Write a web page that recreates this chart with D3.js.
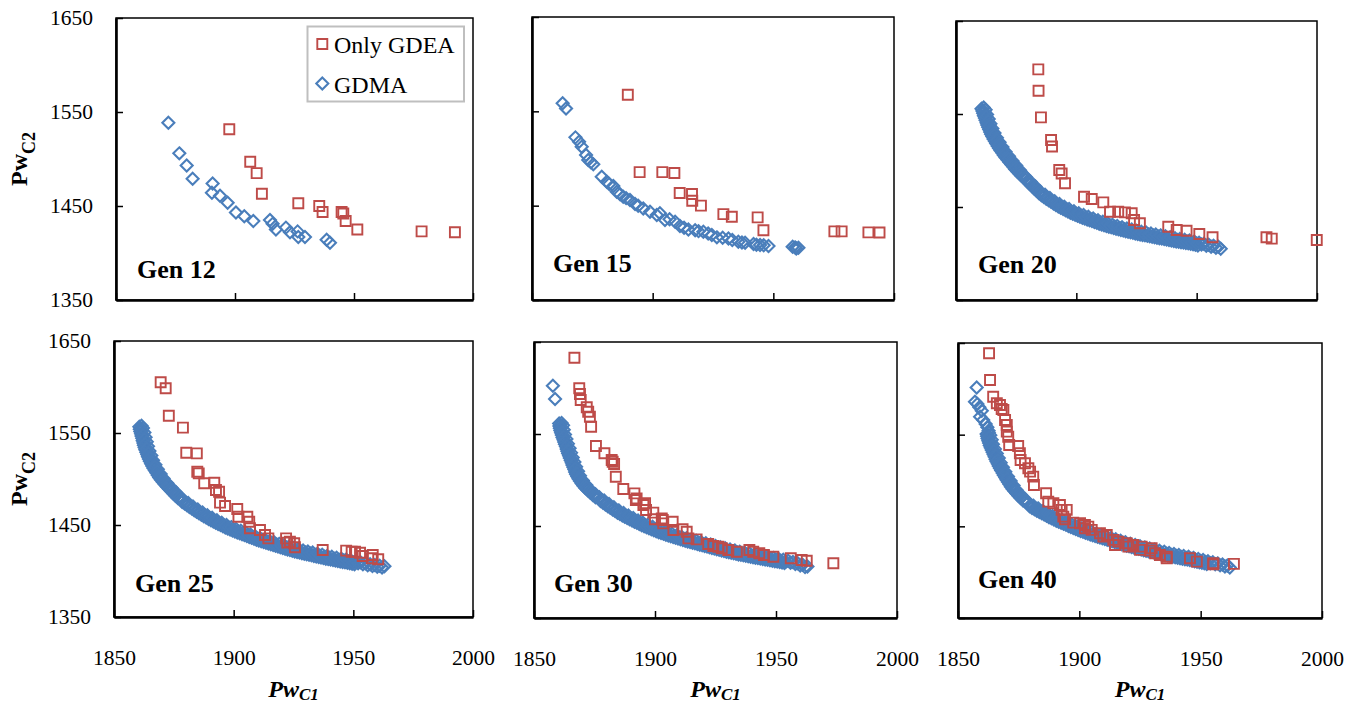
<!DOCTYPE html>
<html>
<head>
<meta charset="utf-8">
<script src="https://cdnjs.cloudflare.com/ajax/libs/d3/7.8.5/d3.min.js"></script>
<style>
  html, body { margin: 0; padding: 0; background: #ffffff; }
  svg { display: block; font-family: "Liberation Serif", "Times New Roman", serif; }
</style>
</head>
<body>
<svg id="chart" width="1357" height="704"></svg>
<script>
// ---- axis ticks and labels ----
const xTicks = [1850, 1900, 1950, 2000];
const yTicks = [1350, 1450, 1550, 1650];
const genLabels = ["Gen 12", "Gen 15", "Gen 20", "Gen 25", "Gen 30", "Gen 40"];
const seriesNames = ["Only GDEA", "GDMA"];

// ---- Gen 12 ----
const gen12Gdea = [[1897.6,1531.6],[1906.4,1497],[1909.1,1485],[1911.3,1463],[1926.6,1453],[1935.4,1450],[1936.8,1443.6],[1944.8,1443.6],[1945.5,1442],[1946.5,1434],[1951.4,1425],[1978.4,1423],[1992.4,1422]];
const gen12Gdma = [[1872,1538.6],[1876.6,1506],[1879.7,1493],[1882.2,1479],[1890.6,1474],[1890.3,1464],[1893.7,1461],[1896.9,1453.5],[1900.4,1443],[1903.9,1439],[1907.7,1434],[1914.7,1435],[1915.8,1431],[1917.2,1425],[1921.4,1427],[1923.1,1422],[1926.3,1423],[1926.6,1417],[1929.4,1417],[1938.5,1414],[1939.9,1411]];

// ---- Gen 15 ----
const gen15Gdea = [[1889.7,1567.6],[1894.6,1485.6],[1904,1485.6],[1909,1484.6],[1911.2,1463.4],[1916.3,1462.3],[1916.4,1455.2],[1920,1450],[1929.3,1441],[1932.8,1438.3],[1943.5,1437.6],[1945.9,1424],[1975.3,1422.7],[1978.3,1422.7],[1989.4,1421.7],[1994,1421.5]];
const gen15Gdma = [[1862.7,1558.5],[1864.1,1553],[1868,1522.4],[1869.5,1517.8],[1870.6,1512.5],[1872.4,1503.7],[1873.3,1498.4],[1874.4,1496],[1875.4,1493.8],[1878.9,1480.7],[1881,1475.4],[1882,1473],[1883.7,1470.8],[1885.1,1464.8],[1886.5,1462],[1887.8,1459.5],[1889,1458],[1890.6,1456],[1892.7,1451.7],[1894,1450],[1896.1,1447],[1898.9,1443.6],[1901.7,1440],[1903,1442],[1905.1,1434.7],[1907,1435.5],[1909.3,1433],[1911.3,1428.4],[1913,1426.5],[1914.8,1424.8],[1917.6,1424],[1919,1423],[1921,1422.3],[1923,1420.5],[1924.5,1418.8],[1926.6,1416.4],[1929,1416],[1931.4,1415.3],[1933,1413.5],[1935.5,1411.7],[1937,1411],[1938.3,1410.7],[1941.8,1409.3],[1943,1408.5],[1944.5,1408.3],[1946,1408],[1948,1407.2],[1958,1406.5],[1959,1405.8],[1959.5,1404.5],[1960.4,1405.5]];

// ---- Gen 20 ----
const gen20Gdea = [[1884.2,1598],[1884.3,1575],[1885.3,1546.4],[1889.5,1522],[1889.9,1515],[1892.9,1489.8],[1893.9,1486],[1895.3,1475.5],[1903.2,1461],[1906.4,1458.6],[1911.2,1455],[1914,1444.9],[1917.4,1444.9],[1920.2,1444.2],[1923,1443.2],[1924,1436],[1926.4,1432.5],[1938.2,1428.8],[1941.7,1425.3],[1945.8,1424.5],[1951.1,1421],[1956.6,1417.4],[1979,1417.4],[1981.2,1416],[1999.9,1414.5]];
const gen20Gdma = [
  [1861.5,1557],[1862.3,1554.5],[1861.9,1552],[1862.9,1549.5],[1862.6,1547],[1863.6,1544.5],[1863.3,1542],[1864.3,1539.5],[1864.0,1537],[1865.1,1534.5],[1864.9,1532],[1866.0,1529.5],[1865.8,1527],[1867.0,1524.5],[1866.9,1522],[1868.1,1519.5],[1868.0,1517],[1869.3,1514.5],[1869.2,1512],[1870.6,1509.5],[1870.5,1507],[1872.0,1504.5],[1871.9,1502],[1873.5,1499.5],[1873.4,1497],[1875.0,1494.5],[1874.9,1492],[1876.6,1489.5],[1876.5,1487],[1878.2,1484.5],
  [1879,1482.2],[1880,1478.1],[1881,1477.1],[1882,1473.0],[1883,1472.0],[1884,1467.8],[1885,1466.8],[1886,1463.3],[1887,1463.1],[1888,1459.7],[1889,1459.6],[1890,1456.3],[1891,1456.2],[1892,1453.0],[1893,1453.2],[1894,1450.2],[1895,1450.4],[1896,1447.5],[1897,1447.8],[1898,1445.0],[1899,1445.5],[1900,1442.8],[1901,1443.3],[1902,1440.7],[1903,1441.3],[1904,1438.7],[1905,1439.4],[1906,1436.9],[1907,1437.6],[1908,1435.1],[1909,1435.8],[1910,1433.3],[1911,1434.1],[1912,1431.7],[1913,1432.5],[1914,1430.1],[1915,1431.0],[1916,1428.7],[1917,1429.6],[1918,1427.3],[1919,1428.2],[1920,1426.0],[1921,1427.0],[1922,1424.8],[1923,1425.8],[1924,1423.6],[1925,1424.6],[1926,1422.4],[1927,1423.5],[1928,1421.4],[1929,1422.5],[1930,1420.4],[1931,1421.5],[1932,1419.4],[1933,1420.5],[1934,1418.4],[1935,1419.5],[1936,1417.4],[1937,1418.5],[1938,1416.4],[1939,1417.5],[1940,1415.4],[1941,1416.5],[1942,1414.4],[1943,1415.6],[1944,1413.6],[1945,1414.8],[1946,1412.8],[1947,1413.9],[1948,1411.8],[1949,1412.8],[1950,1410.7],[1951,1411.7],[1952,1409.6],[1953,1410.6],[1954,1408.4],[1955,1409.5],[1956,1407.3],[1957,1408.4],[1958,1406.2],[1959,1407.3],[1960,1405.2]
];
const gen20GdmaInner = [
  [1860.6,1555.7],[1861.0,1553.2],[1861.3,1550.7],[1861.6,1548.2],[1862.0,1545.7],[1862.3,1543.2],[1862.7,1540.7],[1863.0,1538.2],[1863.4,1535.7],[1863.8,1533.2],[1864.2,1530.7],[1864.6,1528.2],[1865.1,1525.7],[1865.6,1523.2],[1866.2,1520.7],[1866.7,1518.2],[1867.3,1515.7],[1867.9,1513.2],[1868.5,1510.7],[1869.2,1508.2],[1869.9,1505.7],[1870.6,1503.2],[1871.4,1500.7],[1872.2,1498.2],[1873.0,1495.7],[1873.8,1493.2],[1874.6,1490.7],[1875.5,1488.2],[1876.4,1485.7],[1877.3,1483.2],
  [1879.5,1477.7],[1880.5,1475.1],[1881.5,1472.5],[1882.5,1470.0],[1883.5,1467.4],[1884.5,1464.8],[1885.5,1462.6],[1886.5,1460.7],[1887.5,1458.9],[1888.5,1457.2],[1889.5,1455.5],[1890.5,1453.8],[1891.5,1452.1],[1892.5,1450.6],[1893.5,1449.2],[1894.5,1447.8],[1895.5,1446.5],[1896.5,1445.2],[1897.5,1443.9],[1898.5,1442.8],[1899.5,1441.7],[1900.5,1440.6],[1901.5,1439.5],[1902.5,1438.5],[1903.5,1437.5],[1904.5,1436.6],[1905.5,1435.7],[1906.5,1434.8],[1907.5,1433.9],[1908.5,1433.0],[1909.5,1432.1],[1910.5,1431.2],[1911.5,1430.4],[1912.5,1429.6],[1913.5,1428.8],[1914.5,1428.1],[1915.5,1427.4],[1916.5,1426.7],[1917.5,1426.0],[1918.5,1425.3],[1919.5,1424.6],[1920.5,1424.0],[1921.5,1423.4],[1922.5,1422.8],[1923.5,1422.2],[1924.5,1421.6],[1925.5,1421.0],[1926.5,1420.5],[1927.5,1420.0],[1928.5,1419.5],[1929.5,1419.0],[1930.5,1418.5],[1931.5,1418.0],[1932.5,1417.5],[1933.5,1417.0],[1934.5,1416.5],[1935.5,1416.0],[1936.5,1415.5],[1937.5,1415.0],[1938.5,1414.5],[1939.5,1414.0],[1940.5,1413.5],[1941.5,1413.0],[1942.5,1412.5],[1943.5,1412.1],[1944.5,1411.7],[1945.5,1411.3],[1946.5,1410.9],[1947.5,1410.4],[1948.5,1409.8],[1949.5,1409.3],[1950.5,1408.7]
];

// ---- Gen 25 ----
const gen25Gdea = [[1869.5,1605.1],[1871.6,1598.6],[1872.9,1568.8],[1878.8,1555.8],[1880.2,1528.6],[1884.6,1527.9],[1884.8,1507.9],[1885.4,1506.1],[1887.7,1495.3],[1891.9,1496],[1892.6,1488],[1893.9,1486.2],[1894.3,1474.3],[1896.4,1470.7],[1901.5,1467.4],[1902,1459],[1905.7,1459],[1906.5,1453.6],[1906.8,1446.4],[1911,1444.6],[1913.1,1439.1],[1914.5,1435.5],[1921.9,1435.5],[1922.4,1430.8],[1923.5,1431.8],[1925.3,1430.1],[1925.6,1425.8],[1937.2,1422.8],[1947,1422.1],[1949.3,1421],[1950.7,1421],[1952.8,1419.9],[1953.9,1416.3],[1958.1,1417.4],[1957.7,1413.8],[1960.4,1412.7]];
const gen25Gdma = [
  [1861.5,1558],[1862.1,1555.5],[1861.6,1553],[1862.7,1550.5],[1862.1,1548],[1863.2,1545.5],[1862.6,1543],[1863.7,1540.5],[1863.1,1538],[1864.2,1535.5],[1863.7,1533],[1864.8,1530.5],[1864.4,1528],[1865.6,1525.5],[1865.1,1523],[1866.3,1520.5],[1866.0,1518],[1867.3,1515.5],[1867.0,1513],[1868.3,1510.5],[1868.1,1508],[1869.5,1505.5],[1869.3,1503],[1870.7,1500.5],[1870.7,1498],[1872.3,1495.5],[1872.4,1493],[1874.0,1490.5],[1874.2,1488],[1875.9,1485.5],[1876.0,1483],[1877.7,1480.5],
  [1878,1477.8],[1879,1477.4],[1880,1474.1],[1881,1473.8],[1882,1470.4],[1883,1470.2],[1884,1466.9],[1885,1466.8],[1886,1463.5],[1887,1463.6],[1888,1460.5],[1889,1460.6],[1890,1457.6],[1891,1457.8],[1892,1454.8],[1893,1455.1],[1894,1452.2],[1895,1452.5],[1896,1449.6],[1897,1449.9],[1898,1447.2],[1899,1447.7],[1900,1445.0],[1901,1445.6],[1902,1443.0],[1903,1443.7],[1904,1441.2],[1905,1441.8],[1906,1439.2],[1907,1439.8],[1908,1437.2],[1909,1437.8],[1910,1435.2],[1911,1435.9],[1912,1433.5],[1913,1434.3],[1914,1431.9],[1915,1432.7],[1916,1430.3],[1917,1431.1],[1918,1428.7],[1919,1429.5],[1920,1427.1],[1921,1427.9],[1922,1425.5],[1923,1426.3],[1924,1424.0],[1925,1424.9],[1926,1422.6],[1927,1423.6],[1928,1421.4],[1929,1422.4],[1930,1420.2],[1931,1421.2],[1932,1419.0],[1933,1420.0],[1934,1417.8],[1935,1418.8],[1936,1416.6],[1937,1417.6],[1938,1415.4],[1939,1416.4],[1940,1414.3],[1941,1415.4],[1942,1413.3],[1943,1414.4],[1944,1412.3],[1945,1413.4],[1946,1411.3],[1947,1412.4],[1948,1410.3],[1949,1411.4],[1950,1409.3],[1951,1410.4],[1952,1408.3],[1953,1409.4],[1954,1407.3],[1955,1408.4],[1956,1406.3],[1957,1407.4],[1958,1405.4],[1959,1406.6],[1960,1404.6],[1961,1405.8],[1962,1403.8],[1963,1405.1]
];
const gen25GdmaInner = [
  [1860.6,1556.7],[1860.8,1554.2],[1861.0,1551.7],[1861.3,1549.2],[1861.5,1546.7],[1861.8,1544.2],[1862.0,1541.7],[1862.3,1539.2],[1862.5,1536.7],[1862.8,1534.2],[1863.1,1531.7],[1863.5,1529.2],[1863.9,1526.7],[1864.2,1524.2],[1864.6,1521.7],[1865.0,1519.2],[1865.5,1516.7],[1866.0,1514.2],[1866.5,1511.7],[1867.1,1509.2],[1867.7,1506.7],[1868.3,1504.2],[1868.9,1501.7],[1869.6,1499.2],[1870.4,1496.7],[1871.2,1494.2],[1872.1,1491.7],[1873.0,1489.2],[1873.9,1486.7],[1874.8,1484.2],[1875.7,1481.7],[1876.7,1479.2],
  [1878.5,1475.1],[1879.5,1473.3],[1880.5,1471.5],[1881.5,1469.6],[1882.5,1467.8],[1883.5,1466.1],[1884.5,1464.4],[1885.5,1462.7],[1886.5,1461.1],[1887.5,1459.6],[1888.5,1458.1],[1889.5,1456.6],[1890.5,1455.2],[1891.5,1453.8],[1892.5,1452.5],[1893.5,1451.2],[1894.5,1449.9],[1895.5,1448.6],[1896.5,1447.3],[1897.5,1446.1],[1898.5,1445.0],[1899.5,1443.9],[1900.5,1442.8],[1901.5,1441.8],[1902.5,1440.9],[1903.5,1440.0],[1904.5,1439.0],[1905.5,1438.0],[1906.5,1437.0],[1907.5,1436.0],[1908.5,1435.0],[1909.5,1434.0],[1910.5,1433.1],[1911.5,1432.2],[1912.5,1431.4],[1913.5,1430.6],[1914.5,1429.8],[1915.5,1429.0],[1916.5,1428.2],[1917.5,1427.4],[1918.5,1426.6],[1919.5,1425.8],[1920.5,1425.0],[1921.5,1424.2],[1922.5,1423.4],[1923.5,1422.7],[1924.5,1422.0],[1925.5,1421.3],[1926.5,1420.6],[1927.5,1420.0],[1928.5,1419.4],[1929.5,1418.8],[1930.5,1418.2],[1931.5,1417.6],[1932.5,1417.0],[1933.5,1416.4],[1934.5,1415.8],[1935.5,1415.2],[1936.5,1414.6],[1937.5,1414.0],[1938.5,1413.4],[1939.5,1412.9],[1940.5,1412.4],[1941.5,1411.9],[1942.5,1411.4],[1943.5,1410.9],[1944.5,1410.4],[1945.5,1409.9],[1946.5,1409.4],[1947.5,1408.9],[1948.5,1408.4],[1949.5,1407.9],[1950.5,1407.4]
];

// ---- Gen 30 ----
const gen30Gdea = [[1866.7,1632.9],[1868.7,1599.7],[1869,1593.5],[1869.3,1587],[1871.8,1579],[1872.4,1574.2],[1873.1,1568.8],[1873.6,1557.9],[1875.6,1537],[1879.1,1529],[1882.1,1521.7],[1882.5,1519.9],[1883.1,1517.4],[1883.8,1503.6],[1886.9,1490.2],[1891.5,1485.5],[1892.1,1478.3],[1892.4,1480],[1895.2,1472.8],[1895.9,1474.7],[1896.3,1467.4],[1899.3,1464.5],[1900,1457.3],[1902.8,1458.3],[1903.4,1452.9],[1903.2,1456.5],[1907.3,1454.7],[1907.6,1445.7],[1911.4,1446.4],[1913.1,1443.8],[1913.8,1436.6],[1917.2,1435.5],[1922,1430.4],[1924.1,1428.3],[1926.2,1427.5],[1927.6,1425.8],[1930.3,1423.9],[1933.8,1422],[1939,1423.9],[1940.6,1422],[1943.1,1420.3],[1945,1418.5],[1948.9,1416.6],[1956.1,1414.9],[1960.6,1413],[1962.7,1412.3],[1973.7,1409.5]];
const gen30Gdma = [
  [1857.8,1602.5],[1858.7,1588],
  [1861.4,1562],[1862.0,1559.5],[1861.3,1557],[1862.3,1554.5],[1861.7,1552],[1862.8,1549.5],[1862.3,1547],[1863.4,1544.5],[1862.9,1542],[1864.0,1539.5],[1863.6,1537],[1864.7,1534.5],[1864.2,1532],[1865.3,1529.5],[1864.9,1527],[1866.0,1524.5],[1865.6,1522],[1866.7,1519.5],[1866.3,1517],[1867.4,1514.5],[1867.0,1512],[1868.2,1509.5],[1867.8,1507],[1869.0,1504.5],[1868.8,1502],[1870.2,1499.5],[1870.1,1497],[1871.6,1494.5],[1871.6,1492],[1873.3,1489.5],[1873.5,1487],[1875.4,1484.5],[1875.8,1482],
  [1877,1481.3],[1878,1477.9],[1879,1477.6],[1880,1474.1],[1881,1473.9],[1882,1470.5],[1883,1470.3],[1884,1467.0],[1885,1467.0],[1886,1463.9],[1887,1464.1],[1888,1461.1],[1889,1461.3],[1890,1458.3],[1891,1458.6],[1892,1455.7],[1893,1456.0],[1894,1453.2],[1895,1453.6],[1896,1450.8],[1897,1451.3],[1898,1448.6],[1899,1449.1],[1900,1446.5],[1901,1447.1],[1902,1444.5],[1903,1445.2],[1904,1442.7],[1905,1443.4],[1906,1440.9],[1907,1441.6],[1908,1439.2],[1909,1440.0],[1910,1437.6],[1911,1438.4],[1912,1436.0],[1913,1436.8],[1914,1434.5],[1915,1435.4],[1916,1433.1],[1917,1434.0],[1918,1431.7],[1919,1432.6],[1920,1430.3],[1921,1431.2],[1922,1428.9],[1923,1429.8],[1924,1427.5],[1925,1428.4],[1926,1426.1],[1927,1427.0],[1928,1424.7],[1929,1425.7],[1930,1423.5],[1931,1424.5],[1932,1422.3],[1933,1423.3],[1934,1421.1],[1935,1422.1],[1936,1420.0],[1937,1421.1],[1938,1419.0],[1939,1420.1],[1940,1418.0],[1941,1419.1],[1942,1417.0],[1943,1418.1],[1944,1416.0],[1945,1417.2],[1946,1415.2],[1947,1416.3],[1948,1414.2],[1949,1415.3],[1950,1413.2],[1951,1414.3],[1952,1412.2],[1953,1413.3],[1954,1411.2],[1955,1412.2],[1956,1410.0],[1957,1410.9],[1958,1408.6],[1959,1409.4],[1960,1407.0],[1961,1407.8],[1962,1405.3],[1963,1406.0]
];
const gen30GdmaInner = [
  [1860.4,1561.3],[1860.5,1558.8],[1860.7,1556.3],[1860.9,1553.8],[1861.2,1551.3],[1861.5,1548.8],[1861.8,1546.3],[1862.2,1543.8],[1862.5,1541.3],[1862.8,1538.8],[1863.2,1536.3],[1863.5,1533.8],[1863.8,1531.3],[1864.1,1528.8],[1864.5,1526.3],[1864.8,1523.8],[1865.2,1521.3],[1865.6,1518.8],[1865.9,1516.3],[1866.3,1513.8],[1866.7,1511.3],[1867.0,1508.8],[1867.4,1506.3],[1867.9,1503.8],[1868.4,1501.3],[1869.0,1498.8],[1869.7,1496.3],[1870.4,1493.8],[1871.2,1491.3],[1872.2,1488.8],[1873.2,1486.3],[1874.3,1483.8],[1875.4,1481.3],
  [1877.5,1477.1],[1878.5,1475.3],[1879.5,1473.4],[1880.5,1471.5],[1881.5,1469.7],[1882.5,1467.9],[1883.5,1466.2],[1884.5,1464.5],[1885.5,1463.0],[1886.5,1461.5],[1887.5,1460.1],[1888.5,1458.7],[1889.5,1457.3],[1890.5,1456.0],[1891.5,1454.7],[1892.5,1453.4],[1893.5,1452.1],[1894.5,1450.9],[1895.5,1449.7],[1896.5,1448.6],[1897.5,1447.5],[1898.5,1446.4],[1899.5,1445.3],[1900.5,1444.3],[1901.5,1443.3],[1902.5,1442.4],[1903.5,1441.5],[1904.5,1440.6],[1905.5,1439.7],[1906.5,1438.8],[1907.5,1437.9],[1908.5,1437.1],[1909.5,1436.3],[1910.5,1435.5],[1911.5,1434.7],[1912.5,1433.9],[1913.5,1433.2],[1914.5,1432.5],[1915.5,1431.8],[1916.5,1431.1],[1917.5,1430.4],[1918.5,1429.7],[1919.5,1429.0],[1920.5,1428.3],[1921.5,1427.6],[1922.5,1426.9],[1923.5,1426.2],[1924.5,1425.5],[1925.5,1424.8],[1926.5,1424.1],[1927.5,1423.4],[1928.5,1422.7],[1929.5,1422.1],[1930.5,1421.5],[1931.5,1420.9],[1932.5,1420.3],[1933.5,1419.7],[1934.5,1419.1],[1935.5,1418.6],[1936.5,1418.1],[1937.5,1417.6],[1938.5,1417.1],[1939.5,1416.6],[1940.5,1416.1],[1941.5,1415.6],[1942.5,1415.1],[1943.5,1414.6],[1944.5,1414.1],[1945.5,1413.7],[1946.5,1413.3],[1947.5,1412.8],[1948.5,1412.3],[1949.5,1411.8],[1950.5,1411.3],[1951.5,1410.8],[1952.5,1410.3],[1953.5,1409.8]
];

// ---- Gen 40 ----
const gen40Gdea = [[1862.8,1638.8],[1863.2,1609.7],[1864.5,1591.4],[1866,1584.2],[1867.3,1582.4],[1868,1578],[1868.7,1576.9],[1869.4,1566],[1870.1,1560.6],[1870.1,1553.3],[1870.7,1547.8],[1871.1,1538.8],[1874.8,1537.7],[1875.5,1529.7],[1875.8,1522.4],[1877.6,1518.8],[1879,1513.4],[1879.7,1509.7],[1881,1504.2],[1881.3,1495.1],[1886.3,1486.1],[1887.2,1476.9],[1889.3,1475.2],[1892,1473.3],[1892.7,1467.9],[1894.8,1467.9],[1893.4,1460.6],[1894.1,1457.7],[1897.5,1454],[1900.3,1453.4],[1902.3,1451.5],[1903.7,1449.7],[1902.3,1447.9],[1905.1,1446.1],[1908.5,1442.5],[1911.3,1440.6],[1909.9,1438.8],[1914,1435.2],[1916.1,1433.3],[1914.7,1429.7],[1919.5,1431.6],[1922.2,1429.7],[1920.2,1427.9],[1925.7,1427.9],[1929.8,1426.1],[1925,1424.3],[1929.1,1423.5],[1931.2,1420.7],[1933.2,1418.8],[1936,1417],[1936,1415.2],[1945.6,1415.2],[1948.4,1411.5],[1955.2,1409.8],[1955.2,1408.7],[1963.7,1409]];
const gen40Gdma = [
  [1857.7,1601.5],[1857.0,1586],[1858.0,1583.5],[1858.8,1579.9],[1859.8,1576.2],[1859.1,1569.6],[1860.4,1566],[1861.4,1561.7],[1862.1,1558.1],[1862.6,1554.4],
  [1862.7,1552],[1863.3,1549.5],[1862.8,1547],[1863.9,1544.5],[1863.4,1542],[1864.4,1539.5],[1864.0,1537],[1865.2,1534.5],[1864.8,1532],[1866.0,1529.5],[1865.6,1527],[1866.8,1524.5],[1866.4,1522],[1867.6,1519.5],[1867.2,1517],[1868.5,1514.5],[1868.2,1512],[1869.5,1509.5],[1869.3,1507],[1870.6,1504.5],[1870.3,1502],[1871.7,1499.5],[1871.5,1497],[1872.9,1494.5],[1872.7,1492],[1874.2,1489.5],[1874.2,1487],[1875.9,1484.5],[1876.0,1482],[1877.7,1479.5],[1877.8,1477],
  [1879,1475.9],[1880,1472.6],[1881,1472.6],[1882,1469.5],[1883,1469.6],[1884,1466.6],[1885,1466.8],[1886,1463.8],[1887,1464.0],[1888,1461.0],[1889,1461.3],[1890,1458.5],[1891,1458.9],[1892,1456.2],[1893,1456.6],[1894,1453.8],[1895,1454.3],[1896,1451.5],[1897,1452.0],[1898,1449.3],[1899,1449.8],[1900,1447.2],[1901,1447.8],[1902,1445.2],[1903,1445.8],[1904,1443.3],[1905,1444.0],[1906,1441.5],[1907,1442.2],[1908,1439.8],[1909,1440.6],[1910,1438.2],[1911,1439.0],[1912,1436.6],[1913,1437.4],[1914,1435.0],[1915,1435.8],[1916,1433.4],[1917,1434.2],[1918,1431.8],[1919,1432.6],[1920,1430.2],[1921,1431.1],[1922,1428.8],[1923,1429.7],[1924,1427.4],[1925,1428.3],[1926,1426.0],[1927,1427.0],[1928,1424.8],[1929,1425.8],[1930,1423.6],[1931,1424.6],[1932,1422.4],[1933,1423.4],[1934,1421.2],[1935,1422.2],[1936,1420.0],[1937,1421.0],[1938,1418.8],[1939,1419.8],[1940,1417.6],[1941,1418.7],[1942,1416.6],[1943,1417.7],[1944,1415.6],[1945,1416.7],[1946,1414.6],[1947,1415.6],[1948,1413.4],[1949,1414.4],[1950,1412.2],[1951,1413.2],[1952,1411.0],[1953,1412.0],[1954,1409.8],[1955,1410.8],[1956,1408.6],[1957,1409.6],[1958,1407.4],[1959,1408.4],[1960,1406.2],[1961,1407.3],[1962,1405.2]
];
const gen40GdmaInner = [
  [1861.8,1550.8],[1862.0,1548.3],[1862.2,1545.8],[1862.5,1543.3],[1862.8,1540.8],[1863.1,1538.3],[1863.5,1535.8],[1863.9,1533.3],[1864.3,1530.8],[1864.7,1528.3],[1865.1,1525.8],[1865.5,1523.3],[1865.9,1520.8],[1866.4,1518.3],[1866.8,1515.8],[1867.3,1513.3],[1867.8,1510.8],[1868.4,1508.3],[1868.9,1505.8],[1869.5,1503.3],[1870.0,1500.8],[1870.6,1498.3],[1871.2,1495.8],[1871.8,1493.3],[1872.5,1490.8],[1873.3,1488.3],[1874.1,1485.8],[1874.9,1483.3],[1875.8,1480.8],[1876.8,1478.3],
  [1879.5,1471.8],[1880.5,1470.1],[1881.5,1468.6],[1882.5,1467.1],[1883.5,1465.6],[1884.5,1464.2],[1885.5,1462.8],[1886.5,1461.4],[1887.5,1460.0],[1888.5,1458.7],[1889.5,1457.4],[1890.5,1456.2],[1891.5,1455.1],[1892.5,1453.9],[1893.5,1452.7],[1894.5,1451.6],[1895.5,1450.4],[1896.5,1449.3],[1897.5,1448.2],[1898.5,1447.1],[1899.5,1446.0],[1900.5,1445.0],[1901.5,1444.0],[1902.5,1443.0],[1903.5,1442.1],[1904.5,1441.2],[1905.5,1440.3],[1906.5,1439.4],[1907.5,1438.5],[1908.5,1437.7],[1909.5,1436.9],[1910.5,1436.1],[1911.5,1435.3],[1912.5,1434.5],[1913.5,1433.7],[1914.5,1432.9],[1915.5,1432.1],[1916.5,1431.3],[1917.5,1430.5],[1918.5,1429.7],[1919.5,1428.9],[1920.5,1428.2],[1921.5,1427.5],[1922.5,1426.8],[1923.5,1426.1],[1924.5,1425.4],[1925.5,1424.7],[1926.5,1424.0],[1927.5,1423.4],[1928.5,1422.8],[1929.5,1422.2],[1930.5,1421.6],[1931.5,1421.0],[1932.5,1420.4],[1933.5,1419.8],[1934.5,1419.2],[1935.5,1418.6],[1936.5,1418.0],[1937.5,1417.4],[1938.5,1416.8],[1939.5,1416.2],[1940.5,1415.7],[1941.5,1415.2],[1942.5,1414.7],[1943.5,1414.2],[1944.5,1413.7],[1945.5,1413.2],[1946.5,1412.6],[1947.5,1412.0],[1948.5,1411.4],[1949.5,1410.8],[1950.5,1410.2],[1951.5,1409.6],[1952.5,1409.0]
];

// ---- panel layout (plot box: left, top, right, bottom; label: x, baseline) ----
const panels = [
  { gdea: gen12Gdea, gdma: gen12Gdma, box: [116, 18, 473, 300],  label: [137, 278], col: 0, row: 0 },
  { gdea: gen15Gdea, gdma: gen15Gdma, box: [532, 17, 894, 300],  label: [553, 272], col: 1, row: 0 },
  { gdea: gen20Gdea, gdma: gen20GdmaInner.concat(gen20Gdma), box: [956, 21, 1317, 300], label: [978, 273], col: 2, row: 0 },
  { gdea: gen25Gdea, gdma: gen25GdmaInner.concat(gen25Gdma), box: [114, 341, 473, 617], label: [135, 592], col: 0, row: 1 },
  { gdea: gen30Gdea, gdma: gen30GdmaInner.concat(gen30Gdma), box: [534, 342, 897, 618], label: [554, 592], col: 1, row: 1 },
  { gdea: gen40Gdea, gdma: gen40GdmaInner.concat(gen40Gdma), box: [958, 343, 1322, 618], label: [978, 588], col: 2, row: 1 }
];

const RED = "#BE4B48";
const BLUE = "#4A7EBB";
const squarePath = "M-5,-5H5V5H-5Z";
const diamondPath = "M0,-6L6,0L0,6L-6,0Z";
const DIAMOND_STROKE = 2.1;
const SQUARE_STROKE = 1.9;

const svg = d3.select("#chart");

panels.forEach((p, i) => {
  const [l, t, r, b] = p.box;
  const x = d3.scaleLinear().domain([1850, 2000]).range([l, r]);
  const y = d3.scaleLinear().domain([1350, 1650]).range([b, t]);
  const g = svg.append("g").attr("class", "panel");

  // plot frame
  g.append("rect")
    .attr("x", l).attr("y", t).attr("width", r - l).attr("height", b - t)
    .attr("fill", "none").attr("stroke", "#000").attr("stroke-width", 1.5);

  // y axis
  const yAxis = d3.axisLeft(y).tickValues(yTicks)
    .tickSizeInner(-7).tickSizeOuter(0).tickPadding(23)
    .tickFormat(p.col === 0 ? d3.format("d") : () => "");
  const gy = g.append("g").attr("transform", `translate(${l},0)`).call(yAxis);

  // x axis
  const xAxis = d3.axisBottom(x).tickValues(xTicks)
    .tickSizeInner(-7).tickSizeOuter(0).tickPadding(33)
    .tickFormat(p.row === 1 ? d3.format("d") : () => "");
  const gx = g.append("g").attr("transform", `translate(0,${b})`).call(xAxis);

  [gy, gx].forEach(ax => {
    ax.attr("font-family", null).attr("font-size", null);
    ax.select(".domain").attr("stroke", "#000").attr("stroke-width", 2.6);
    ax.selectAll(".tick line").attr("stroke", "#000").attr("stroke-width", 1.5);
    ax.selectAll(".tick text")
      .style("font-family", '"Liberation Serif", "Times New Roman", serif')
      .style("font-size", "21.5px").attr("fill", "#000");
  });

  // GDMA diamonds, then Only-GDEA squares on top
  g.append("g").selectAll("path").data(p.gdma).join("path")
    .attr("d", diamondPath)
    .attr("transform", d => `translate(${x(d[0])},${y(d[1])})`)
    .attr("fill", "none").attr("stroke", BLUE).attr("stroke-width", DIAMOND_STROKE);

  g.append("g").selectAll("path").data(p.gdea).join("path")
    .attr("d", squarePath)
    .attr("transform", d => `translate(${x(d[0])},${y(d[1])})`)
    .attr("fill", "none").attr("stroke", RED).attr("stroke-width", SQUARE_STROKE);

  // generation label
  g.append("text")
    .attr("x", p.label[0]).attr("y", p.label[1])
    .attr("font-size", 26).attr("font-weight", "bold").attr("fill", "#000")
    .text(genLabels[i]);

  // y-axis title on the left column
  if (p.col === 0) {
    const cy = (t + b) / 2;
    const yt = g.append("text")
      .attr("transform", `translate(26.5,${cy}) rotate(-90)`)
      .attr("text-anchor", "middle").attr("font-weight", "bold").attr("fill", "#000")
      .attr("font-size", 24);
    yt.append("tspan").text("Pw");
    yt.append("tspan").attr("font-size", 18).attr("dy", 8.5).text("C2");
  }

  // x-axis title under the bottom row
  if (p.row === 1) {
    const cx = (l + r) / 2;
    const xt = g.append("text")
      .attr("x", cx).attr("y", 697)
      .attr("text-anchor", "middle").attr("font-weight", "bold")
      .attr("font-style", "italic").attr("fill", "#000").attr("font-size", 24);
    xt.append("tspan").text("Pw");
    xt.append("tspan").attr("font-size", 17).attr("dy", 3).text("C1");
  }
});

// legend inside the first panel
const legend = svg.append("g").attr("class", "legend");
legend.append("rect")
  .attr("x", 307.5).attr("y", 26.5).attr("width", 156.5).attr("height", 75)
  .attr("fill", "#fff").attr("stroke", "#bfbfbf").attr("stroke-width", 2);
const legendItems = [
  { name: seriesNames[0], path: squarePath, color: RED, sw: SQUARE_STROKE, cy: 44 },
  { name: seriesNames[1], path: diamondPath, color: BLUE, sw: DIAMOND_STROKE, cy: 83.5 }
];
legendItems.forEach(it => {
  legend.append("path").attr("d", it.path)
    .attr("transform", `translate(322.3,${it.cy})`)
    .attr("fill", "none").attr("stroke", it.color).attr("stroke-width", it.sw);
  legend.append("text")
    .attr("x", 334).attr("y", it.cy + 9)
    .attr("font-size", 24).attr("fill", "#000")
    .text(it.name);
});
</script>
</body>
</html>
